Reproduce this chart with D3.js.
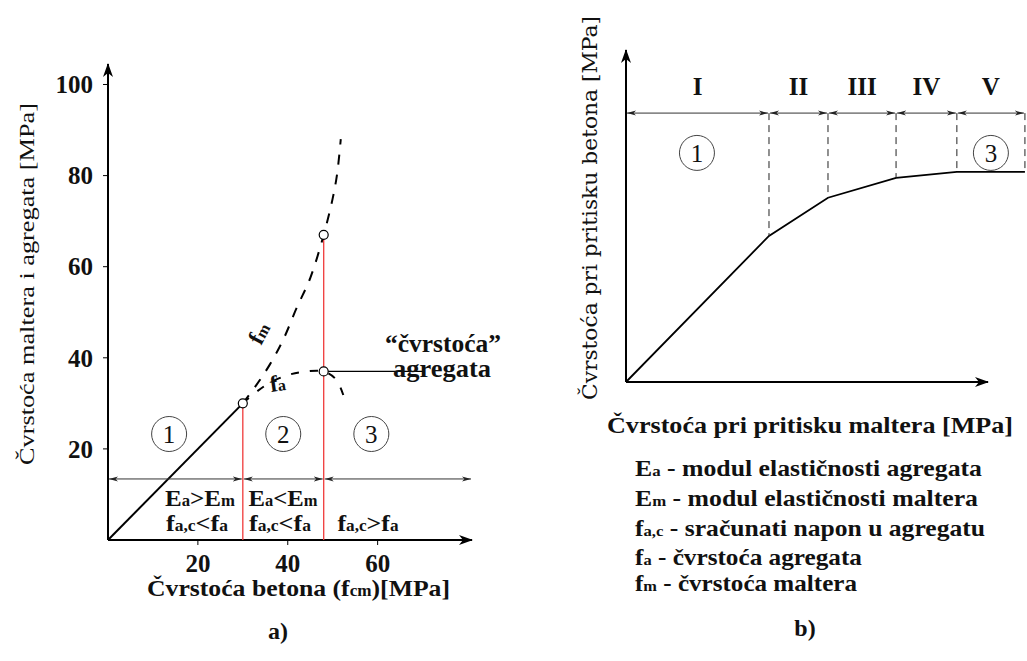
<!DOCTYPE html>
<html>
<head>
<meta charset="utf-8">
<script src="https://cdn.jsdelivr.net/npm/d3@7"></script>
<style>
  body { margin: 0; background: #fff; }
  svg { display: block; }
  text { fill: #111; }
</style>
</head>
<body>
<svg id="chart" width="1027" height="661"></svg>
<script>
// ---- left chart (a) data ----
let yTicksA = [20, 40, 60, 80, 100];
let xTicksA = [20, 40, 60];
let solidA = [[0, 0], [30, 30]];
let fmCurve = [[30, 30], [33, 34], [36, 38.5], [39, 44], [42, 51], [45, 57.5], [48, 67], [50, 75], [51, 80.5], [51.8, 88]];
let faCurve = [[30, 30], [33, 32.5], [36, 34.5], [40, 36.2], [44, 37], [48, 37], [50.5, 35.5], [52.3, 32], [52.8, 29.5]];
let redLines = [[30, 30], [48, 67]];
let circlesA = [[30, 30], [48, 67], [48, 37]];
let zonesA = [0, 30, 48, 81];
let zoneNums = ["1", "2", "3"];
let zoneNumX = [13.6, 39, 58.6];

// ---- right chart (b) data ----
let xB = [0, 39.5, 55.8, 74.6, 91.4, 110.2];
let yB = [0, 44, 55.5, 61.5, 63.3, 63.3];
let romans = ["I", "II", "III", "IV", "V"];
let legendKeys = [["E", "a"], ["E", "m"], ["f", "a,c"], ["f", "a"], ["f", "m"]];
let legendTexts = [" - modul elastičnosti agregata", " - modul elastičnosti maltera", " - sračunati napon u agregatu", " - čvrstoća agregata", " - čvrstoća maltera"];

const svg = d3.select("#chart");
const serif = "'Liberation Serif', serif";
const slab = "'DejaVu Serif', serif";

// markers
const defs = svg.append("defs");
defs.append("marker").attr("id", "axArrow")
  .attr("viewBox", "0 0 14 10").attr("refX", 13).attr("refY", 5)
  .attr("markerWidth", 14).attr("markerHeight", 10).attr("markerUnits", "userSpaceOnUse")
  .attr("orient", "auto")
  .append("path").attr("d", "M0,0 L14,5 L0,10 L4,5 Z").attr("fill", "#000");
defs.append("marker").attr("id", "smArrow")
  .attr("viewBox", "0 0 9 6").attr("refX", 9).attr("refY", 3)
  .attr("markerWidth", 9).attr("markerHeight", 6).attr("markerUnits", "userSpaceOnUse")
  .attr("orient", "auto-start-reverse")
  .append("path").attr("d", "M0,0.5 L9,3 L0,5.5 L2.5,3 Z").attr("fill", "#222");

// ================= chart a =================
const xA = d3.scaleLinear().domain([0, 81]).range([108, 472]);
const yA = d3.scaleLinear().domain([0, 104.5]).range([540, 64]);
const gA = svg.append("g");

// axes
gA.append("line").attr("x1", xA(0)).attr("y1", yA(0)).attr("x2", xA(81)).attr("y2", yA(0))
  .attr("stroke", "#000").attr("stroke-width", 2).attr("marker-end", "url(#axArrow)");
gA.append("line").attr("x1", xA(0)).attr("y1", yA(0)).attr("x2", xA(0)).attr("y2", yA(104.5))
  .attr("stroke", "#000").attr("stroke-width", 2).attr("marker-end", "url(#axArrow)");

gA.selectAll(".yt").data(yTicksA).join("line")
  .attr("x1", xA(0) - 5).attr("x2", xA(0)).attr("y1", d => yA(d)).attr("y2", d => yA(d))
  .attr("stroke", "#000").attr("stroke-width", 1);
gA.selectAll(".ytl").data(yTicksA).join("text")
  .attr("x", 93).attr("y", d => yA(d)).attr("dy", "0.35em").attr("text-anchor", "end")
  .attr("font-family", serif).attr("font-weight", "bold").attr("font-size", 25).text(d => d);
gA.selectAll(".xt").data(xTicksA).join("line")
  .attr("x1", d => xA(d)).attr("x2", d => xA(d)).attr("y1", yA(0)).attr("y2", yA(0) + 5)
  .attr("stroke", "#000").attr("stroke-width", 1);
gA.selectAll(".xtl").data(xTicksA).join("text")
  .attr("x", d => xA(d)).attr("y", 563).attr("dy", "0.35em").attr("text-anchor", "middle")
  .attr("font-family", serif).attr("font-weight", "bold").attr("font-size", 25).text(d => d);

// axis titles
gA.append("text").attr("transform", "translate(34,284) rotate(-90)")
  .attr("text-anchor", "middle").attr("font-family", serif).attr("font-size", 22)
  .attr("textLength", 362).attr("lengthAdjust", "spacingAndGlyphs")
  .text("Čvrstoća maltera i agregata [MPa]");
const xt = gA.append("text").attr("x", 147).attr("y", 596)
  .attr("font-family", serif).attr("font-weight", "bold").attr("font-size", 24)
  .attr("textLength", 303).attr("lengthAdjust", "spacingAndGlyphs");
xt.append("tspan").text("Čvrstoća betona (f");
xt.append("tspan").attr("font-size", 16).text("cm");
xt.append("tspan").text(")[MPa]");

// red lines
gA.selectAll(".red").data(redLines).join("line")
  .attr("x1", d => xA(d[0])).attr("x2", d => xA(d[0])).attr("y1", yA(0)).attr("y2", d => yA(d[1]))
  .attr("stroke", "#f03a3a").attr("stroke-width", 1.3);

// curves
const lineA = d3.line().x(d => xA(d[0])).y(d => yA(d[1]));
gA.append("path").attr("d", lineA(solidA)).attr("fill", "none").attr("stroke", "#000").attr("stroke-width", 2);
const curveA = d3.line().x(d => xA(d[0])).y(d => yA(d[1])).curve(d3.curveCatmullRom);
gA.append("path").attr("d", curveA(fmCurve)).attr("fill", "none").attr("stroke", "#000")
  .attr("stroke-width", 2).attr("stroke-dasharray", "10,10");
gA.append("path").attr("d", curveA(faCurve)).attr("fill", "none").attr("stroke", "#000")
  .attr("stroke-width", 2).attr("stroke-dasharray", "8,11");

// leader line
gA.append("line").attr("x1", xA(48)).attr("y1", yA(37)).attr("x2", 425).attr("y2", yA(37))
  .attr("stroke", "#000").attr("stroke-width", 1.2);

gA.selectAll(".pt").data(circlesA).join("circle")
  .attr("cx", d => xA(d[0])).attr("cy", d => yA(d[1])).attr("r", 4.5)
  .attr("fill", "#fff").attr("stroke", "#000").attr("stroke-width", 1.2);

// curve labels
const fmL = gA.append("text").attr("transform", "translate(261,346) rotate(-62)")
  .attr("font-family", serif).attr("font-weight", "bold").attr("font-size", 23);
fmL.append("tspan").text("f");
fmL.append("tspan").attr("font-size", 16).text("m");
const faL = gA.append("text").attr("transform", "translate(271,392) rotate(-8)")
  .attr("font-family", serif).attr("font-weight", "bold").attr("font-size", 23);
faL.append("tspan").text("f");
faL.append("tspan").attr("font-size", 16).text("a");

gA.append("text").attr("x", 385).attr("y", 352).attr("font-family", serif)
  .attr("font-weight", "bold").attr("font-size", 25).attr("textLength", 116)
  .attr("lengthAdjust", "spacingAndGlyphs").text("“čvrstoća”");
gA.append("text").attr("x", 393).attr("y", 377).attr("font-family", serif)
  .attr("font-weight", "bold").attr("font-size", 25).attr("textLength", 98)
  .attr("lengthAdjust", "spacingAndGlyphs").text("agregata");

// zone arrows
const zyA = yA(13.4);
for (let i = 0; i < zonesA.length - 1; i++) {
  gA.append("line").attr("x1", xA(zonesA[i]) + 1).attr("x2", xA(zonesA[i + 1]) - 1)
    .attr("y1", zyA).attr("y2", zyA).attr("stroke", "#333").attr("stroke-width", 1)
    .attr("marker-start", "url(#smArrow)").attr("marker-end", "url(#smArrow)");
}
gA.selectAll(".zc").data(zoneNumX).join("circle")
  .attr("cx", d => xA(d)).attr("cy", 434).attr("r", 17.5)
  .attr("fill", "none").attr("stroke", "#444").attr("stroke-width", 1);
gA.selectAll(".zn").data(zoneNums).join("text")
  .attr("x", (d, i) => xA(zoneNumX[i])).attr("y", 434).attr("dy", "0.35em").attr("text-anchor", "middle")
  .attr("font-family", serif).attr("font-size", 25).text(d => d);

// condition texts
function subText(g, x, y, parts, len) {
  const t = g.append("text").attr("x", x).attr("y", y).attr("text-anchor", "middle")
    .attr("font-family", serif).attr("font-weight", "bold").attr("font-size", 24)
    .attr("textLength", len).attr("lengthAdjust", "spacingAndGlyphs");
  parts.forEach(p => {
    const s = t.append("tspan").text(p[0]);
    if (p[1]) s.attr("font-size", 16);
  });
  return t;
}
subText(gA, 200, 506, [["E"], ["a", 1], [">E"], ["m", 1]], 70);
subText(gA, 197, 531, [["f"], ["a,c", 1], ["<f"], ["a", 1]], 62);
subText(gA, 283, 506, [["E"], ["a", 1], ["<E"], ["m", 1]], 69);
subText(gA, 280, 531, [["f"], ["a,c", 1], ["<f"], ["a", 1]], 62);
subText(gA, 368, 531, [["f"], ["a,c", 1], [">f"], ["a", 1]], 61);

gA.append("text").attr("x", 278).attr("y", 639).attr("text-anchor", "middle")
  .attr("font-family", serif).attr("font-weight", "bold").attr("font-size", 24).text("a)");

// ================= chart b =================
const xS = d3.scaleLinear().domain([0, 100]).range([626, 988]);
const yS = d3.scaleLinear().domain([0, 100]).range([382, 50]);
const gB = svg.append("g");

gB.append("line").attr("x1", xS(0)).attr("y1", yS(0)).attr("x2", xS(100)).attr("y2", yS(0))
  .attr("stroke", "#000").attr("stroke-width", 2).attr("marker-end", "url(#axArrow)");
gB.append("line").attr("x1", xS(0)).attr("y1", yS(0)).attr("x2", xS(0)).attr("y2", yS(100))
  .attr("stroke", "#000").attr("stroke-width", 2).attr("marker-end", "url(#axArrow)");

const ptsB = xB.map((x, i) => [x, yB[i]]);
gB.append("path").attr("d", d3.line().x(d => xS(d[0])).y(d => yS(d[1]))(ptsB))
  .attr("fill", "none").attr("stroke", "#000").attr("stroke-width", 1.8);

// dashed dividers
const zyB = yS(81);
gB.selectAll(".dv").data(ptsB.slice(1)).join("line")
  .attr("x1", d => xS(d[0])).attr("x2", d => xS(d[0])).attr("y1", zyB).attr("y2", d => yS(d[1]))
  .attr("stroke", "#222").attr("stroke-width", 1).attr("stroke-dasharray", "7,5");

for (let i = 0; i < xB.length - 1; i++) {
  gB.append("line").attr("x1", xS(xB[i]) + 1).attr("x2", xS(xB[i + 1]) - 1)
    .attr("y1", zyB).attr("y2", zyB).attr("stroke", "#333").attr("stroke-width", 1)
    .attr("marker-start", "url(#smArrow)").attr("marker-end", "url(#smArrow)");
}
gB.selectAll(".rm").data(romans).join("text")
  .attr("x", (d, i) => (xS(xB[i]) + xS(xB[i + 1])) / 2).attr("y", 86).attr("dy", "0.35em")
  .attr("text-anchor", "middle").attr("font-family", serif).attr("font-weight", "bold")
  .attr("font-size", 25).text(d => d);

const circB = [[19.6, "1"], [100.8, "3"]];
gB.selectAll(".bc").data(circB).join("circle")
  .attr("cx", d => xS(d[0])).attr("cy", yS(69)).attr("r", 17.5)
  .attr("fill", "#fff").attr("stroke", "#444").attr("stroke-width", 1);
gB.selectAll(".bn").data(circB).join("text")
  .attr("x", d => xS(d[0])).attr("y", yS(69)).attr("dy", "0.35em").attr("text-anchor", "middle")
  .attr("font-family", serif).attr("font-size", 25).text(d => d[1]);

gB.append("text").attr("transform", "translate(597,208) rotate(-90)")
  .attr("text-anchor", "middle").attr("font-family", slab).attr("font-size", 20)
  .attr("textLength", 384).attr("lengthAdjust", "spacingAndGlyphs")
  .text("Čvrstoća pri pritisku betona [MPa]");

gB.append("text").attr("x", 607).attr("y", 433).attr("font-family", serif)
  .attr("font-weight", "bold").attr("font-size", 23)
  .attr("textLength", 406).attr("lengthAdjust", "spacingAndGlyphs")
  .text("Čvrstoća pri pritisku maltera [MPa]");

const legY = [468, 498, 528, 557, 583];
const legW = [347, 343, 350, 227, 222];
legendKeys.forEach((k, i) => {
  const t = gB.append("text").attr("x", 635).attr("y", legY[i]).attr("dy", "0.35em")
    .attr("font-family", serif).attr("font-weight", "bold").attr("font-size", 23)
    .attr("textLength", legW[i]).attr("lengthAdjust", "spacingAndGlyphs");
  t.append("tspan").text(k[0]);
  t.append("tspan").attr("font-size", 15).text(k[1]);
  t.append("tspan").text(legendTexts[i]);
});

gB.append("text").attr("x", 805).attr("y", 636).attr("text-anchor", "middle")
  .attr("font-family", serif).attr("font-weight", "bold").attr("font-size", 24).text("b)");
</script>
</body>
</html>
